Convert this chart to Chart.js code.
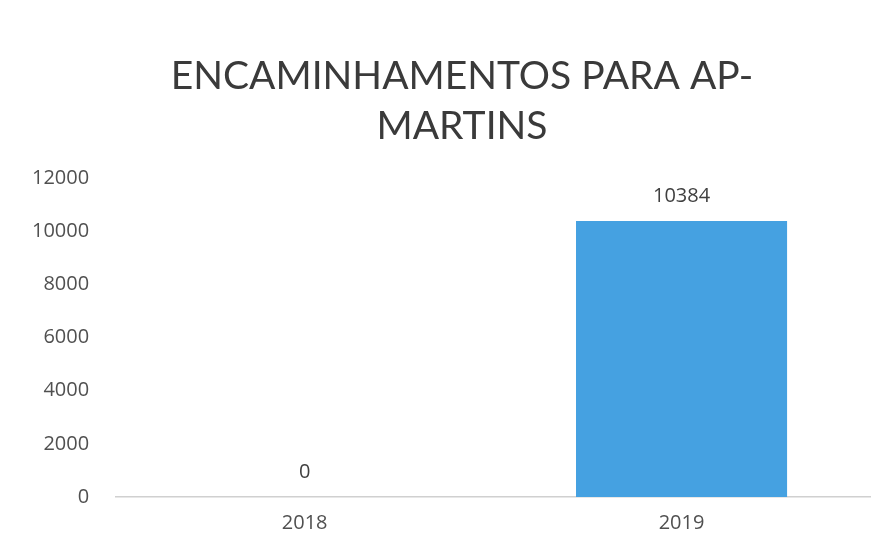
<!DOCTYPE html>
<html>
<head>
<meta charset="utf-8">
<script src="https://cdn.jsdelivr.net/npm/chart.js@4"></script>
<style>
  html, body { margin: 0; padding: 0; background: #fff; }
  #wrap { width: 888px; height: 551px; }
</style>
</head>
<body>
<div id="wrap"><canvas id="encChart"></canvas></div>
<script>

const anos = ["2018", "2019"];
const encaminhamentos = [0, 10384];
const eixoY = [0, 2000, 4000, 6000, 8000, 10000, 12000];
const titulo = ["ENCAMINHAMENTOS PARA AP-", "MARTINS"];

// escreve o valor em cima de cada barra
const valorNaBarra = {
  id: "valorNaBarra",
  afterDatasetsDraw(chart){
    const ctx = chart.ctx;
    const meta = chart.getDatasetMeta(0);
    ctx.save();
    ctx.font = "20px 'Open Sans'";
    ctx.fillStyle = "#404040";
    ctx.textAlign = "center";
    ctx.textBaseline = "middle";
    meta.data.forEach((bar, i) => {
      ctx.fillText(String(encaminhamentos[i]), bar.x, bar.y - 25);
    });
    ctx.restore();
  }
};

// titulo em duas linhas no topo
const tituloGrafico = {
  id: "tituloGrafico",
  afterDraw(chart){
    const ctx = chart.ctx;
    ctx.save();
    ctx.font = "39px Lato";
    ctx.fillStyle = "#3a3a3a";
    ctx.textAlign = "center";
    ctx.textBaseline = "middle";
    titulo.forEach((linha, i) => {
      ctx.fillText(linha, 462, 76 + i * 50);
    });
    ctx.restore();
  }
};

new Chart(document.getElementById("encChart"), {
  type: "bar",
  data: {
    labels: anos,
    datasets: [{
      data: encaminhamentos,
      backgroundColor: "#45a1e1",
      borderWidth: 0,
      categoryPercentage: 1,
      barPercentage: 0.56
    }]
  },
  options: {
    responsive: true,
    maintainAspectRatio: false,
    animation: false,
    layout: {
      padding: { left: 13, right: 18, top: 178, bottom: 10 }
    },
    plugins: {
      legend: { display: false },
      tooltip: { enabled: false },
      title: { display: false }
    },
    scales: {
      x: {
        grid: { display: false },
        border: { color: "#d0d0d0", width: 1.5 },
        ticks: { color: "#505050", font: { family: "'Open Sans'", size: 20 }, padding: 6 }
      },
      y: {
        min: eixoY[0],
        max: eixoY[eixoY.length - 1],
        afterBuildTicks(axis){
          axis.ticks = eixoY.map(v => ({ value: v }));
        },
        grid: { display: false },
        border: { display: false },
        ticks: {
          color: "#505050",
          font: { family: "'Open Sans'", size: 20 },
          padding: 19,
          callback: v => String(v)
        }
      }
    }
  },
  plugins: [valorNaBarra, tituloGrafico]
});

</script>
</body>
</html>
